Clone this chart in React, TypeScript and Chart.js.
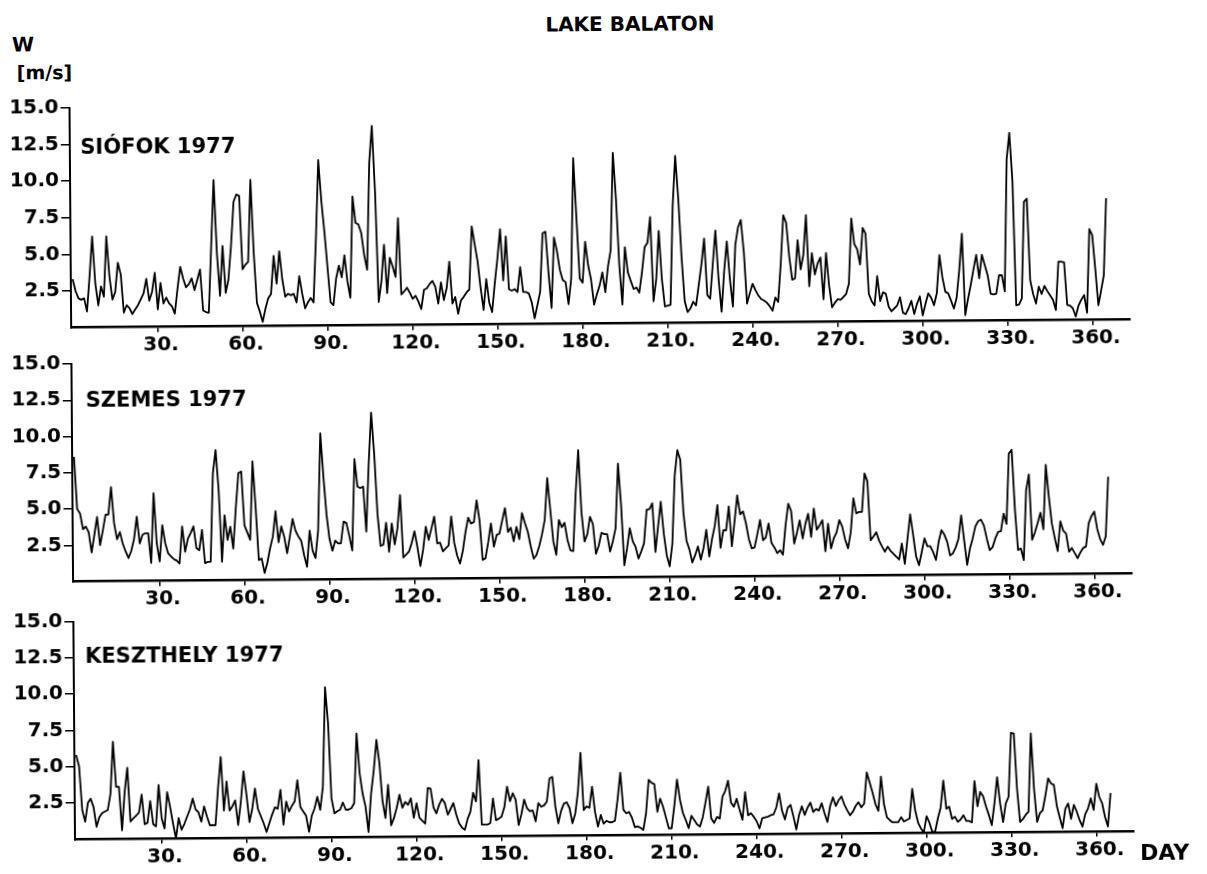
import React, { useEffect, useRef } from "react";
import { Chart, registerables } from "chart.js";

Chart.register(...registerables);

// Daily mean wind speed W [m/s], days 0..365
const siofok: number[] = [
  3.3, 2.5, 2.0, 1.9, 2.0, 1.1, 3.5, 6.2, 3.0, 1.5,
  2.8, 2.1, 6.2, 3.5, 1.9, 2.4, 4.4, 3.6, 1.0, 1.5,
  1.3, 0.9, 1.2, 1.5, 1.9, 2.3, 3.3, 1.8, 2.4, 3.7,
  1.2, 3.0, 1.6, 2.0, 1.6, 1.4, 0.9, 2.6, 4.1, 3.3,
  2.7, 2.9, 3.3, 2.5, 3.2, 3.9, 1.1, 1.0, 0.95, 5.5,
  10.0, 5.0, 2.1, 5.5, 2.3, 3.2, 5.5, 8.5, 9.0, 8.9,
  3.9, 4.2, 4.4, 10.0, 5.0, 1.6, 1.0, 0.3, 1.2, 1.9,
  2.2, 4.8, 2.9, 5.1, 3.2, 2.0, 2.2, 2.1, 2.2, 1.6,
  3.4, 2.2, 1.2, 1.6, 1.9, 1.6, 6.0, 11.3, 8.5, 6.4,
  4.0, 1.6, 1.4, 3.2, 4.1, 3.3, 4.8, 3.0, 1.9, 8.8,
  7.0, 6.9, 6.3, 4.8, 3.8, 11.1, 13.6, 9.0, 1.6, 3.0,
  5.5, 2.2, 4.6, 4.0, 3.3, 7.3, 2.1, 2.3, 2.55, 2.2,
  1.8, 2.0, 1.6, 1.1, 2.4, 2.5, 2.8, 3.0, 2.6, 1.45,
  2.9, 1.7, 2.5, 4.3, 1.45, 1.9, 0.75, 1.65, 1.9, 2.2,
  2.4, 6.7, 5.5, 4.3, 2.5, 1.0, 3.1, 1.5, 0.85, 2.8,
  4.5, 6.5, 3.0, 6.0, 2.4, 2.3, 2.4, 2.2, 3.9, 2.2,
  2.2, 2.1, 1.5, 0.4, 1.3, 2.2, 6.2, 6.3, 3.5, 1.1,
  5.9, 5.0, 3.7, 3.0, 2.85, 1.35, 3.1, 11.3, 7.2, 3.1,
  2.8, 5.6, 4.0, 3.0, 1.3, 2.0, 2.6, 3.5, 2.15, 3.9,
  5.0, 11.65, 8.5, 4.0, 1.3, 5.2, 3.5, 2.9, 2.35, 2.45,
  2.1, 3.5, 5.2, 5.5, 7.25, 1.5, 3.0, 6.3, 3.0, 1.15,
  1.2, 1.25, 8.0, 11.4, 8.45, 4.5, 1.5, 0.75, 1.0, 1.45,
  1.2, 2.6, 4.0, 5.75, 1.9, 1.65, 4.0, 6.3, 3.0, 0.75,
  3.5, 5.55, 3.0, 1.1, 5.3, 6.5, 7.0, 4.8, 1.3, 2.0,
  2.65, 2.2, 1.85, 1.6, 1.5, 1.35, 1.1, 0.8, 1.7, 1.4,
  4.0, 7.3, 6.8, 4.5, 2.9, 3.0, 5.6, 3.6, 4.6, 7.3,
  2.45, 4.7, 3.25, 4.0, 4.4, 1.55, 4.7, 2.5, 1.0, 1.3,
  1.55, 1.5, 1.7, 1.9, 2.6, 7.05, 5.3, 4.95, 3.9, 6.4,
  6.0, 1.9, 1.4, 1.1, 3.1, 1.4, 2.0, 1.9, 1.0, 0.7,
  0.9, 1.1, 1.65, 0.6, 0.5, 0.9, 1.4, 0.5, 1.2, 1.7,
  0.4, 1.2, 1.9, 1.6, 1.1, 1.9, 4.5, 3.0, 2.0, 1.9,
  1.4, 0.85, 1.6, 3.5, 5.95, 0.4, 1.5, 2.45, 3.5, 4.5,
  2.9, 4.5, 3.8, 3.1, 1.85, 1.8, 1.85, 3.1, 3.1, 2.0,
  11.0, 12.8, 9.5, 1.05, 1.1, 1.5, 8.1, 8.3, 2.75, 1.8,
  1.15, 2.3, 1.8, 2.35, 2.0, 1.7, 1.4, 0.7, 4.0, 4.0,
  3.95, 1.05, 1.0, 0.8, 0.25, 1.0, 1.4, 1.7, 0.5, 6.2,
  5.8, 3.5, 1.0, 2.0, 3.05, 8.3,
];

const szemes: number[] = [
  8.6, 5.0, 4.7, 3.6, 3.8, 3.4, 2.0, 3.2, 4.45, 2.5,
  3.5, 4.6, 4.6, 6.5, 4.0, 2.9, 3.4, 2.6, 2.05, 1.6,
  2.1, 2.9, 4.45, 2.6, 3.2, 3.3, 3.3, 1.25, 6.05, 2.6,
  1.35, 3.85, 2.6, 1.9, 1.7, 1.5, 1.4, 1.2, 3.75, 2.0,
  2.9, 3.3, 3.75, 2.25, 2.1, 3.5, 1.2, 1.3, 1.3, 7.4,
  9.0, 6.2, 1.3, 4.5, 2.8, 3.7, 2.2, 5.0, 7.4, 7.5,
  3.8, 3.3, 2.8, 8.2, 5.0, 1.4, 1.5, 0.5, 1.2, 2.2,
  3.0, 4.75, 2.6, 3.7, 3.0, 1.85, 3.0, 4.2, 3.4, 3.0,
  2.7, 1.7, 0.9, 3.4, 2.0, 1.5, 3.4, 10.1, 7.1, 4.5,
  2.8, 2.0, 2.7, 2.5, 2.5, 4.0, 3.9, 3.0, 2.0, 8.3,
  6.4, 6.3, 6.4, 3.3, 7.9, 11.5, 8.6, 4.5, 2.3, 2.4,
  3.9, 1.9, 3.85, 2.4, 3.5, 5.8, 1.5, 1.7, 1.9, 2.5,
  3.3, 2.2, 0.9, 2.0, 3.6, 2.7, 3.5, 4.3, 2.45, 2.5,
  1.9, 2.1, 2.3, 4.3, 2.5, 1.6, 1.05, 1.9, 3.2, 4.2,
  3.8, 3.9, 5.4, 4.0, 1.3, 1.4, 2.5, 3.8, 2.2, 3.0,
  3.1, 4.0, 4.85, 3.2, 3.5, 2.55, 3.55, 2.7, 4.5, 3.8,
  3.2, 2.2, 1.35, 1.6, 2.2, 3.0, 4.0, 6.9, 4.7, 2.5,
  1.6, 4.0, 3.5, 3.8, 2.6, 1.9, 1.85, 5.85, 8.8, 4.5,
  2.5, 3.0, 4.2, 3.7, 1.65, 2.2, 3.1, 3.0, 3.0, 1.8,
  2.5, 3.4, 7.85, 5.0, 0.85, 2.0, 3.4, 2.5, 2.1, 1.3,
  1.8, 2.35, 4.65, 4.7, 5.1, 1.75, 3.5, 5.2, 3.0, 1.5,
  0.75, 2.3, 7.0, 8.75, 8.1, 4.4, 2.5, 1.9, 1.0, 1.5,
  2.1, 1.2, 2.0, 3.25, 1.4, 2.6, 3.5, 4.95, 2.0, 3.2,
  3.2, 4.85, 2.1, 3.8, 5.6, 4.3, 4.5, 3.7, 2.6, 1.95,
  2.0, 2.9, 3.9, 2.5, 2.7, 3.65, 2.3, 2.0, 1.6, 1.8,
  1.5, 3.5, 5.0, 4.5, 2.25, 3.0, 3.85, 2.6, 3.6, 4.3,
  2.7, 4.65, 3.2, 3.5, 3.85, 1.7, 3.6, 1.9, 2.6, 3.0,
  3.85, 3.4, 2.5, 1.9, 3.0, 5.35, 4.3, 4.4, 4.4, 7.05,
  6.5, 2.45, 2.7, 3.0, 2.4, 2.0, 1.65, 2.0, 1.7, 1.5,
  1.3, 1.1, 2.2, 0.8, 2.5, 4.2, 2.8, 1.3, 0.7, 1.6,
  2.55, 2.0, 2.0, 1.6, 1.05, 2.3, 3.1, 2.8, 2.3, 1.35,
  1.5, 1.9, 2.5, 4.1, 2.4, 0.7, 1.8, 2.5, 3.35, 3.7,
  3.8, 3.4, 2.5, 1.7, 1.9, 2.5, 2.95, 3.0, 4.2, 3.5,
  8.35, 8.6, 4.5, 1.7, 1.8, 1.0, 5.8, 6.9, 2.4, 2.9,
  3.55, 4.25, 3.1, 7.55, 5.35, 3.5, 2.5, 1.6, 3.65, 3.0,
  2.8, 1.55, 1.8, 1.45, 1.1, 1.5, 1.8, 1.9, 3.5, 4.0,
  4.3, 3.1, 2.4, 2.0, 2.6, 6.7,
];

const keszthely: number[] = [
  5.8, 5.0, 2.0, 1.2, 2.5, 2.8, 2.2, 0.85, 1.5, 1.8,
  1.9, 2.0, 3.1, 6.7, 3.6, 3.6, 0.6, 3.2, 4.9, 1.2,
  1.4, 1.6, 1.8, 3.05, 1.0, 1.1, 2.6, 1.0, 0.85, 3.7,
  1.4, 0.7, 3.2, 2.2, 1.05, 0.0, 1.4, 0.6, 1.0, 1.5,
  2.0, 2.75, 2.0, 1.8, 1.15, 2.2, 1.5, 0.9, 0.9, 0.9,
  3.5, 5.6, 1.9, 3.9, 1.9, 2.2, 2.6, 0.9, 2.5, 4.6,
  3.0, 1.1, 2.0, 3.4, 2.0, 1.5, 1.0, 0.4, 1.0, 1.6,
  2.1, 2.0, 3.3, 0.9, 2.5, 1.8, 2.2, 2.5, 3.95, 2.1,
  1.8, 1.5, 0.4, 1.5, 2.0, 2.8, 1.9, 3.5, 10.35, 7.85,
  2.7, 1.65, 1.8, 1.9, 2.4, 1.9, 1.9, 2.0, 2.35, 7.15,
  4.4, 3.0, 2.1, 0.35, 3.0, 4.6, 6.7, 5.1, 2.5, 1.3,
  3.6, 0.8, 1.3, 2.0, 2.9, 2.0, 2.4, 2.2, 2.65, 1.3,
  2.3, 1.3, 1.1, 0.9, 3.35, 3.3, 2.0, 1.6, 2.2, 2.6,
  2.3, 1.5, 1.9, 2.3, 1.5, 0.9, 0.6, 0.45, 1.2, 1.7,
  3.0, 2.4, 5.25, 0.8, 0.8, 0.8, 0.9, 2.6, 1.1, 1.2,
  1.35, 2.0, 3.4, 2.4, 2.95, 2.5, 0.75, 1.5, 2.5, 1.9,
  1.7, 1.75, 1.0, 2.25, 2.0, 2.1, 2.35, 3.95, 4.05, 2.0,
  0.85, 1.7, 2.2, 2.3, 1.9, 0.85, 1.5, 3.0, 5.7, 1.75,
  2.0, 1.9, 3.35, 1.6, 0.6, 1.4, 0.8, 1.0, 0.9, 0.9,
  1.0, 2.5, 4.3, 1.75, 1.5, 1.6, 1.2, 0.55, 0.6, 0.5,
  0.35, 1.5, 3.8, 3.6, 3.5, 1.6, 2.5, 1.95, 1.2, 0.45,
  0.45, 2.0, 3.8, 2.4, 1.5, 1.0, 0.45, 1.3, 1.0, 0.7,
  0.55, 1.2, 2.2, 3.3, 1.1, 0.8, 1.2, 1.1, 2.6, 3.0,
  3.7, 2.2, 1.9, 2.45, 1.7, 1.0, 2.9, 1.3, 1.45, 1.2,
  0.9, 0.4, 1.1, 1.15, 1.2, 1.3, 1.35, 1.85, 2.8, 1.6,
  1.0, 1.8, 2.0, 1.2, 0.3, 1.3, 1.9, 1.3, 1.8, 2.15,
  1.5, 1.7, 1.6, 2.1, 1.4, 0.8, 1.9, 2.5, 1.9, 2.3,
  2.55, 2.0, 1.6, 1.25, 1.5, 1.9, 2.15, 1.8, 2.05, 4.2,
  3.5, 2.8, 2.0, 1.55, 3.9, 2.0, 1.1, 0.9, 0.75, 0.75,
  0.75, 1.1, 0.8, 0.9, 1.0, 3.05, 1.55, 0.7, 0.3, 0.05,
  1.15, 0.7, 0.05, 0.1, 1.0, 1.75, 3.6, 1.65, 1.8, 0.95,
  1.1, 0.75, 0.9, 1.2, 0.8, 0.8, 0.7, 3.55, 1.8, 2.8,
  2.5, 1.8, 1.2, 0.5, 2.0, 3.8, 2.0, 0.7, 2.0, 2.45,
  6.85, 6.8, 3.0, 0.7, 0.9, 1.2, 1.4, 6.8, 3.0, 0.7,
  1.3, 1.5, 2.5, 3.7, 3.35, 3.25, 1.8, 1.0, 0.25, 1.6,
  1.95, 0.9, 1.85, 1.4, 0.8, 0.35, 1.2, 1.6, 2.3, 1.5,
  3.3, 2.4, 1.95, 1.0, 0.35, 2.65,
];

const stationNames: string[] = ["SIÓFOK 1977", "SZEMES 1977", "KESZTHELY 1977"];
const dayTicks: number[] = [30, 60, 90, 120, 150, 180, 210, 240, 270, 300, 330, 360];
const speedTicks: number[] = [2.5, 5.0, 7.5, 10.0, 12.5, 15.0];

const FONT = "'DejaVu Sans', sans-serif";
const W = 1207;
const AXIS_X = 72; // y-axis line
const RIGHT_X = 1130.5; // end of x-axis line
const DAY0_X = 73.8; // pixel of day 0
const PX_PER_DAY = 2.833;
const X_MIN = -(DAY0_X - AXIS_X) / PX_PER_DAY;
const X_MAX = X_MIN + (RIGHT_X - AXIS_X) / PX_PER_DAY;

type PanelProps = { values: number[]; top: number; bottom: number };

function Panel({ values, top, bottom }: PanelProps) {
  const ref = useRef<HTMLCanvasElement | null>(null);
  const T = Math.floor(top) - 16;
  const H = Math.ceil(bottom - T + 44);
  useEffect(() => {
    if (!ref.current) return;
    const tickFont = { family: FONT, size: 20, weight: "bold" as const };
    const chart = new Chart(ref.current, {
      type: "line",
      data: {
        datasets: [
          {
            data: values.map((v, i) => ({ x: i, y: v })),
            borderColor: "#000",
            borderWidth: 1.8,
            pointRadius: 0,
            tension: 0,
            fill: false,
            borderJoinStyle: "round",
          },
        ],
      },
      options: {
        animation: false,
        responsive: false,
        devicePixelRatio: 1,
        events: [],
        layout: { padding: { left: 0, right: W - RIGHT_X, top: top - T, bottom: 0 } },
        plugins: {
          legend: { display: false },
          tooltip: { enabled: false },
          title: { display: false },
        },
        scales: {
          x: {
            type: "linear",
            min: X_MIN,
            max: X_MAX,
            afterBuildTicks: (s: any) => {
              s.ticks = dayTicks.map((v) => ({ value: v }));
            },
            afterFit: (s: any) => {
              s.height = H - (bottom - T);
            },
            grid: {
              drawOnChartArea: false,
              drawTicks: true,
              tickLength: 5,
              color: "#000",
              lineWidth: 1.5,
            },
            border: { display: true, color: "#000", width: 2.5 },
            ticks: {
              color: "#000",
              font: tickFont,
              padding: 1,
              labelOffset: 3,
              maxRotation: 0,
              autoSkip: false,
              callback: (v: any) => `${v}.`,
            },
          },
          y: {
            type: "linear",
            min: 0,
            max: 15,
            afterBuildTicks: (s: any) => {
              s.ticks = speedTicks.map((v) => ({ value: v }));
            },
            afterFit: (s: any) => {
              s.width = AXIS_X;
            },
            grid: {
              drawOnChartArea: false,
              drawTicks: true,
              tickLength: 9,
              color: "#000",
              lineWidth: 1.5,
            },
            border: { display: true, color: "#000", width: 2 },
            ticks: {
              color: "#000",
              font: tickFont,
              padding: 2,
              autoSkip: false,
              callback: (v: any) => Number(v).toFixed(1),
            },
          },
        },
      },
    } as any);
    return () => chart.destroy();
  }, [values, top, bottom, T, H]);
  return (
    <canvas
      ref={ref}
      width={W}
      height={H}
      style={{ position: "absolute", left: 0, top: T, width: W, height: H }}
    />
  );
}

function Label({ text, left, capCenter, size, center }: { text: string; left: number; capCenter: number; size: number; center?: boolean }) {
  const top = capCenter - 0.4815 * size;
  return (
    <div
      style={{
        position: "absolute",
        left: center ? left - 300 : left,
        width: center ? 600 : undefined,
        textAlign: center ? "center" : "left",
        top,
        fontFamily: FONT,
        fontWeight: "bold",
        fontSize: size,
        lineHeight: `${size}px`,
        whiteSpace: "nowrap",
        color: "#000",
      }}
    >
      {text}
    </div>
  );
}

const panels = [
  { values: siofok, top: 103.7, bottom: 323.7, name: stationNames[0], labelX: 82.5, labelY: 142.7 },
  { values: szemes, top: 360, bottom: 577.7, name: stationNames[1], labelX: 86, labelY: 396.2 },
  { values: keszthely, top: 617.7, bottom: 835.3, name: stationNames[2], labelX: 83.5, labelY: 652.4 },
];

export default function App() {
  return (
    <div
      style={{
        position: "absolute",
        left: 0,
        top: 0,
        width: W,
        height: 874,
        background: "#fff",
        overflow: "hidden",
      }}
    >
      <div
        style={{
          position: "absolute",
          left: 0,
          top: 0,
          width: W,
          height: 874,
          transform: "rotate(-0.43deg)",
          transformOrigin: "603.5px 437px",
        }}
      >
        {panels.map((p, i) => (
          <Panel key={i} values={p.values} top={p.top} bottom={p.bottom} />
        ))}
        <Label text="LAKE BALATON" left={633} capCenter={23.2} size={20} center />
        <Label text="W" left={15} capCenter={39.6} size={20} />
        <Label text="[m/s]" left={19.5} capCenter={68.4} size={19} />
        {panels.map((p, i) => (
          <Label key={"n" + i} text={p.name} left={p.labelX} capCenter={p.labelY} size={21} />
        ))}
        <Label text="DAY" left={1137} capCenter={856.7} size={22} />
      </div>
    </div>
  );
}
